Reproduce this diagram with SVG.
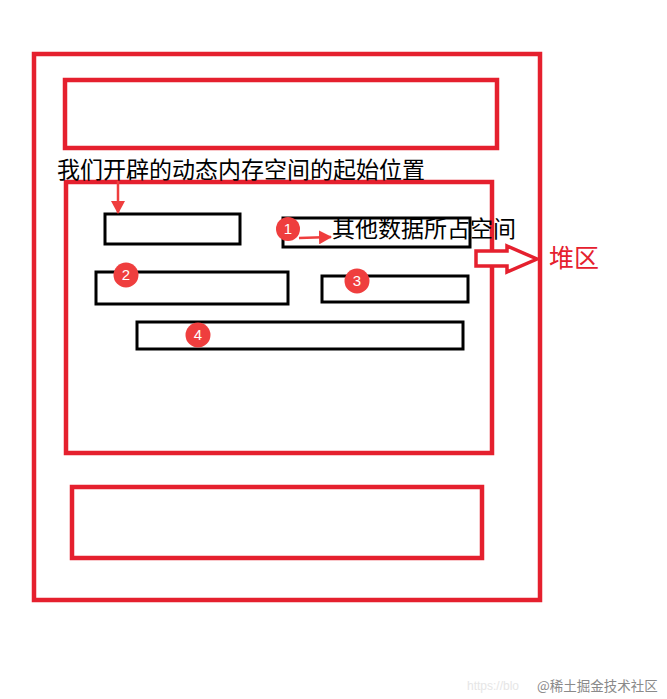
<svg xmlns="http://www.w3.org/2000/svg" width="667" height="699" viewBox="0 0 667 699">
<style>
.red{fill:none;stroke:#e5202e;stroke-width:4.5}
.blk{fill:none;stroke:#000;stroke-width:3}
.badge circle{fill:#ef3e3e}
.badge text{fill:#fff;font-family:"Liberation Sans",Arial,sans-serif;font-size:15px;text-anchor:middle}
.lbl{font-family:"Noto Sans CJK SC","Noto Sans",sans-serif;font-size:23px;fill:#000}
.conn{stroke:#ef3e3e;stroke-width:2.5;fill:none}
</style>
<defs>
<marker id="ah" markerWidth="14" markerHeight="14" refX="12" refY="7" orient="auto" markerUnits="userSpaceOnUse">
<path d="M0,0 L13,7 L0,14 z" fill="#ef3e3e"/>
</marker>
</defs>
<rect width="667" height="699" fill="#fff"/>
<g id="outer"><rect class="red" x="34" y="54" width="506" height="546"/></g>
<g id="top-area"><rect class="red" x="65" y="80" width="432" height="68"/></g>
<g id="heap"><rect class="red" x="66" y="182" width="426" height="271"/></g>
<g id="bottom-area"><rect class="red" x="72" y="487" width="410" height="71"/></g>
<g id="block-start"><rect class="blk" x="105" y="214" width="135" height="30"/></g>
<g id="block1"><rect class="blk" x="283" y="218" width="187" height="29"/></g>
<g id="block2"><rect class="blk" x="96" y="272" width="192" height="32"/></g>
<g id="block3"><rect class="blk" x="322" y="276" width="146" height="26"/></g>
<g id="block4"><rect class="blk" x="137" y="322" width="326" height="27"/></g>
<g id="label-start"><text class="lbl" x="57" y="178">我们开辟的动态内存空间的起始位置</text></g>
<g id="label-other"><text class="lbl" x="332" y="237">其他数据所占空间</text></g>
<g id="label-heap"><text x="549" y="267" font-family="Liberation Serif,'Noto Sans CJK SC',serif" font-size="25" fill="#e5202e">堆区</text></g>
<g id="badge1" class="badge"><circle cx="288" cy="229" r="12"/><text x="288" y="234">1</text></g>
<g id="badge2" class="badge"><circle cx="126" cy="275" r="12.5"/><text x="126" y="280">2</text></g>
<g id="badge3" class="badge"><circle cx="357" cy="281" r="12.5"/><text x="357" y="286">3</text></g>
<g id="badge4" class="badge"><circle cx="198" cy="335" r="12.5"/><text x="198" y="340">4</text></g>
<g id="connectors">
<path d="M118,181 L118,213" class="conn" marker-end="url(#ah)"/>
<path d="M299,238 L331,237" class="conn" marker-end="url(#ah)"/>
<path d="M476,251 L507,251 L507,246 L537,259 L507,272 L507,266 L476,266 Z" fill="#fff" stroke="#e5202e" stroke-width="3.5" stroke-linejoin="miter"/>
</g>
<g id="watermark">
<text x="467" y="690" font-family="Liberation Sans,sans-serif" font-size="12" fill="#e6e6e6">https://blo</text>
<text x="537" y="691" font-family="'Noto Sans CJK SC',sans-serif" font-size="13.5" fill="#8a8a8a">@稀土掘金技术社区</text>
</g>
</svg>
